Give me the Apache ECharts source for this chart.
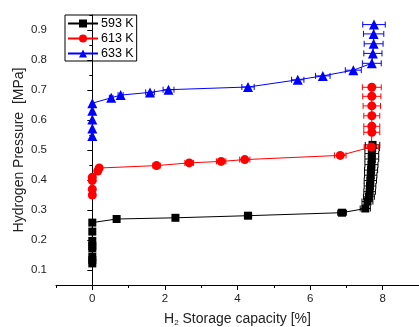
<!DOCTYPE html>
<html><head><meta charset="utf-8">
<script src="https://cdn.jsdelivr.net/npm/echarts@6/dist/echarts.min.js"></script>
<style>html,body{margin:0;padding:0;background:#fff}#c{width:419px;height:327px}</style>
</head><body><div id="c"></div>
<script>
const names = ['593 K', '613 K', '633 K'];
const x593 = [0,0,0,0,0,0,0,0, 0.67,2.29,4.29,6.88,7.52,7.58,7.62,7.64,7.65,7.66,7.67,7.68,7.69,7.70,7.70,7.71,7.72];
const p593 = [0.122,0.133,0.144,0.172,0.18,0.197,0.228,0.258, 0.27,0.274,0.281,0.291,0.305,0.328,0.344,0.361,0.38,0.398,0.416,0.433,0.451,0.47,0.488,0.506,0.517];
const e593 = [0,0,0,0,0,0,0,0, 0.05,0.08,0.1,0.12,0.14,0.15,0.15,0.16,0.16,0.17,0.17,0.18,0.18,0.19,0.19,0.2,0.2];
const x613 = [0,0,0,0,0.15,0.19,1.77,2.67,3.55,4.20,6.83,7.69,7.70,7.70,7.70,7.70,7.70,7.70];
const p613 = [0.35,0.369,0.398,0.409,0.43,0.44,0.448,0.457,0.462,0.468,0.482,0.51,0.559,0.579,0.614,0.647,0.679,0.709];
const e613 = [0,0,0,0,0,0,0.1,0.12,0.13,0.14,0.16,0.2,0.22,0.22,0.22,0.24,0.25,0.26];
const x633 = [0,0,0,0,0, 0.52,0.78,1.59,2.10,4.29,5.66,6.35,7.19,7.70,7.73,7.75,7.75,7.76];
const p633 = [0.547,0.572,0.602,0.631,0.656, 0.674,0.683,0.692,0.701,0.71,0.734,0.747,0.766,0.789,0.822,0.854,0.887,0.918];
const e633 = [0,0,0,0,0, 0.05,0.07,0.12,0.15,0.17,0.17,0.2,0.22,0.26,0.25,0.26,0.28,0.31];
const xMajor = [0,2,4,6,8];
const yMajor = [0.1,0.2,0.3,0.4,0.5,0.6,0.7,0.8,0.9];

const colors = ['#000000', '#ff0000', '#0000ff'];
const symbols = ['rect', 'circle', 'triangle'];
const sizes = [8, 9, 10];
const xs = [x593, x613, x633], ps = [p593, p613, p633], es = [e593, e613, e633];

const font = 'Liberation Sans, Arial, sans-serif';
const chart = echarts.init(document.getElementById('c'), null, {renderer: 'canvas'});

function errSeries(i) {
  const data = xs[i].map((x, k) => [x, ps[i][k], es[i][k]]).filter(d => d[2] > 0);
  return {
    type: 'custom', name: names[i] + ' err', silent: true, z: 1,
    data: data,
    encode: {x: 0, y: 1},
    renderItem: function (params, api) {
      const x = api.value(0), y = api.value(1), e = api.value(2);
      const a = api.coord([x - e, y]), b = api.coord([x + e, y]);
      const st = {stroke: colors[i], lineWidth: 1};
      return {type: 'group', children: [
        {type: 'line', shape: {x1: a[0], y1: a[1], x2: b[0], y2: b[1]}, style: st},
        {type: 'line', shape: {x1: a[0], y1: a[1] - 3, x2: a[0], y2: a[1] + 3}, style: st},
        {type: 'line', shape: {x1: b[0], y1: b[1] - 3, x2: b[0], y2: b[1] + 3}, style: st}
      ]};
    }
  };
}

const series = [];
for (let i = 0; i < 3; i++) {
  series.push({
    type: 'line', name: names[i], z: 3,
    data: xs[i].map((x, k) => [x, ps[i][k]]),
    symbol: symbols[i], symbolSize: sizes[i],
    lineStyle: {color: colors[i], width: 1},
    itemStyle: {color: colors[i]},
    emphasis: {disabled: true}
  });
}
for (let i = 0; i < 3; i++) series.push(errSeries(i));

const axisLine = {show: true, lineStyle: {color: '#000', width: 1}};
chart.setOption({
  animation: false,
  color: colors,
  textStyle: {fontFamily: font},
  grid: {left: 56, right: 0, top: 15, bottom: 42, containLabel: false, outerBoundsMode: 'none'},
  legend: {
    data: names, orient: 'vertical', left: 65, top: 15,
    itemWidth: 30, itemHeight: 10, itemGap: 2,
    padding: [2, 3, 1, 2],
    borderColor: '#000', borderWidth: 1, borderRadius: 0,
    textStyle: {fontFamily: font, fontSize: 12.5, color: '#000', padding: [0, 0, 0, -2]}
  },
  xAxis: [{
    type: 'value', min: -1, max: 9, interval: 1,
    axisLine: axisLine,
    axisTick: {show: true, length: 3, inside: false, lineStyle: {color: '#000'}},
    splitLine: {show: false},
    axisLabel: {fontFamily: font, fontSize: 11.5, color: '#222', margin: 8,
      formatter: v => (Math.round(v) % 2 === 0 && v >= 0 && v <= 8) ? String(Math.round(v)) : ''},
    name: '{a|H}{s|2}{a| Storage capacity [%]}', nameLocation: 'middle', nameGap: 27,
    nameTextStyle: {rich: {
      a: {fontFamily: font, fontSize: 14, color: '#222'},
      s: {fontFamily: font, fontSize: 8, color: '#222', verticalAlign: 'bottom', padding: [7, 0, 0, 0]}
    }}
  }, {
    type: 'value', min: -1, max: 9, position: 'bottom',
    axisLine: {show: false},
    axisTick: {show: true, length: 5, customValues: xMajor, lineStyle: {color: '#000'}},
    axisLabel: {show: false}, splitLine: {show: false}
  }],
  yAxis: [{
    type: 'value', min: 0.05, max: 0.95, interval: 0.05,
    axisLine: axisLine,
    axisTick: {show: true, length: 3, lineStyle: {color: '#000'}},
    splitLine: {show: false},
    axisLabel: {fontFamily: font, fontSize: 11.5, color: '#222', margin: 9,
      formatter: v => (Math.abs(v * 10 - Math.round(v * 10)) < 1e-6) ? (v).toFixed(1) : ''},
    name: 'Hydrogen Pressure  [MPa]', nameLocation: 'middle', nameGap: 30, nameMoveOverlap: false,
    nameTextStyle: {fontFamily: font, fontSize: 14, color: '#222'}
  }, {
    type: 'value', min: 0.05, max: 0.95, position: 'left',
    axisLine: {show: false},
    axisTick: {show: true, length: 5, customValues: yMajor, lineStyle: {color: '#000'}},
    axisLabel: {show: false}, splitLine: {show: false}
  }],
  series: series
});
</script></body></html>
